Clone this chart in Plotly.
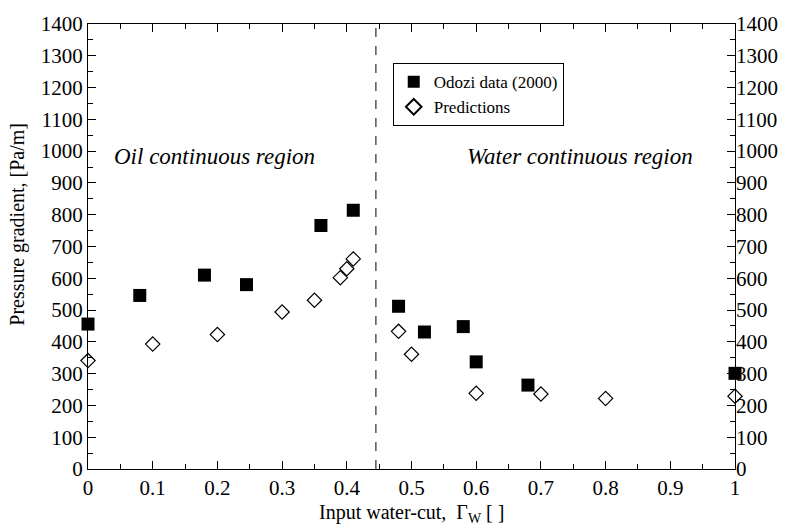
import plotly.graph_objects as go

odozi_x = [0.0, 0.08, 0.18, 0.245, 0.36, 0.41, 0.48, 0.52, 0.58, 0.60, 0.68, 1.0]
odozi_y = [456, 546, 610, 580, 766, 814, 512, 431, 448, 337, 264, 301]

pred_x = [0.0, 0.10, 0.20, 0.30, 0.35, 0.39, 0.40, 0.41, 0.48, 0.50, 0.60, 0.70, 0.80, 1.0]
pred_y = [341, 393, 423, 494, 531, 602, 630, 661, 433, 361, 238, 236, 222, 229]

boundary_x = 0.445
y_range = [0, 1400]
x_range = [0, 1]

FONT = "Liberation Serif"

fig = go.Figure()
fig.add_trace(go.Scatter(
    x=odozi_x, y=odozi_y, mode="markers", name="Odozi data (2000)",
    marker=dict(symbol="square", size=13, color="black", line=dict(width=0)),
    cliponaxis=False,
))
fig.add_trace(go.Scatter(
    x=pred_x, y=pred_y, mode="markers", name="Predictions",
    marker=dict(symbol="diamond-open", size=11, color="black", line=dict(width=1.2, color="black")),
    cliponaxis=False,
))
fig.add_trace(go.Scatter(x=[0], y=[0], yaxis="y2", mode="markers",
                         marker=dict(opacity=0), showlegend=False, hoverinfo="skip"))

fig.add_shape(type="line", x0=boundary_x, x1=boundary_x, y0=y_range[0], y1=y_range[1],
              xref="x", yref="y", line=dict(color="black", width=1, dash="dash"))

fig.add_annotation(x=0.0366, y=982, xref="x", yref="y", text="<i>Oil continuous region</i>",
                   showarrow=False, xanchor="left", yanchor="middle", font=dict(family=FONT, size=23, color="black"))
fig.add_annotation(x=0.76, y=982, xref="x", yref="y", text="<i>Water continuous region</i>",
                   showarrow=False, xanchor="center", yanchor="middle", font=dict(family=FONT, size=23, color="black"))

fig.add_annotation(x=-0.109, y=0.55, xref="paper", yref="paper", text="Pressure gradient, [Pa/m]",
                   textangle=-90, showarrow=False, xanchor="center", yanchor="middle",
                   font=dict(family=FONT, size=20, color="black"))
fig.add_annotation(x=0.5, y=-0.1, xref="paper", yref="paper",
                   text="Input water-cut,  Γ<sub>W</sub> [ ]",
                   showarrow=False, xanchor="center", yanchor="middle",
                   font=dict(family=FONT, size=20, color="black"))

axis_common = dict(showgrid=False, zeroline=False, showline=True, linecolor="black", linewidth=1.2,
                   ticks="inside", ticklen=8, tickwidth=1, tickcolor="black",
                   tickfont=dict(family=FONT, size=21, color="black"))

fig.update_layout(
    width=790, height=530,
    margin=dict(l=88, r=55, t=17, b=61),
    paper_bgcolor="white", plot_bgcolor="white",
    font=dict(family=FONT, color="black"),
    xaxis=dict(range=x_range, tickmode="linear", tick0=0, dtick=0.1, mirror="ticks",
               minor=dict(dtick=0.05, ticks="inside", ticklen=5, tickcolor="black"),
               tickformat="~g", **axis_common),
    yaxis=dict(range=y_range, tickmode="linear", tick0=0, dtick=100, mirror="ticks",
               minor=dict(dtick=50, ticks="inside", ticklen=5, tickcolor="black"),
               **axis_common),
    yaxis2=dict(range=y_range, overlaying="y", side="right", tickmode="linear", tick0=0, dtick=100,
                showgrid=False, zeroline=False, showline=False, ticks="",
                tickfont=dict(family=FONT, size=21, color="black")),
    legend=dict(x=0.471, y=0.912, xanchor="left", yanchor="top",
                bordercolor="black", borderwidth=1, bgcolor="white",
                font=dict(family=FONT, size=17, color="black"),
                itemsizing="constant", tracegroupgap=0),
    showlegend=True,
)

fig.write_html("out.html")
